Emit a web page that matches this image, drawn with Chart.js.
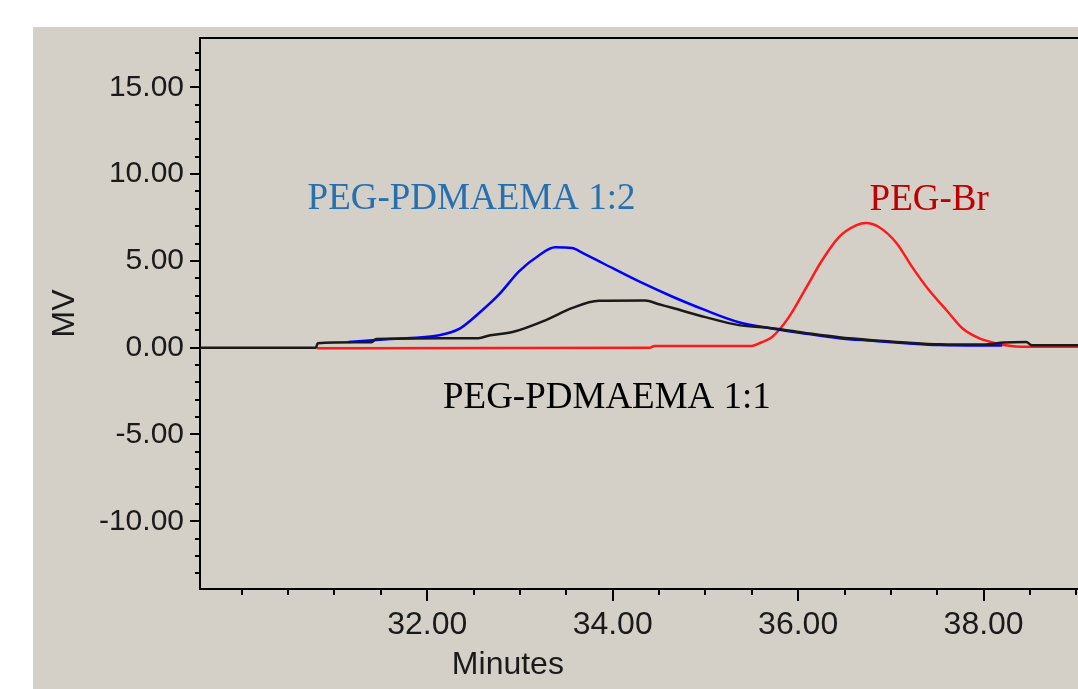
<!DOCTYPE html>
<html>
<head>
<meta charset="utf-8">
<script src="https://cdn.jsdelivr.net/npm/chart.js@4.4.1/dist/chart.umd.min.js"></script>
<style>
  html, body { margin: 0; padding: 0; background: #fff; overflow: hidden; width: 1078px; height: 689px; }
  #wrap { position: absolute; left: 33px; top: 27px; width: 1150px; height: 662px; background: #d4d0c8; }
</style>
</head>
<body>
<div id="wrap"><canvas id="gpc"></canvas></div>
<script>
// tick labels
const xTicks = [32, 34, 36, 38];
const yTicks = [-10, -5, 0, 5, 10, 15];

// PEG-PDMAEMA 1:1 (black)
const blackMin = [29.55, 30.80, 30.82, 31.40, 31.45, 32.55, 32.68, 32.92, 33.28, 33.56, 33.85, 34.35, 34.50, 34.64, 35.00, 35.36, 35.72, 36.09, 36.44, 36.80, 37.16, 37.52, 38.00, 38.22, 38.46, 38.52, 40.15];
const blackMV  = [0.00, 0.00, 0.26, 0.32, 0.50, 0.55, 0.72, 0.90, 1.59, 2.28, 2.70, 2.72, 2.50, 2.30, 1.76, 1.30, 1.12, 0.84, 0.60, 0.43, 0.30, 0.20, 0.18, 0.30, 0.33, 0.14, 0.14];

// PEG-PDMAEMA 1:2 (blue)
const blueMin = [31.15, 31.60, 32.13, 32.35, 32.56, 32.78, 32.99, 33.20, 33.38, 33.56, 33.68, 33.90, 34.29, 34.64, 35.00, 35.36, 35.72, 36.09, 36.44, 36.80, 37.16, 37.52, 38.20];
const blueMV  = [0.33, 0.50, 0.72, 1.10, 2.00, 3.10, 4.40, 5.30, 5.78, 5.74, 5.45, 4.85, 3.80, 2.95, 2.16, 1.47, 1.10, 0.80, 0.55, 0.40, 0.26, 0.15, 0.12];

// PEG-Br (red)
const redMin = [30.81, 34.40, 34.45, 35.50, 35.60, 35.72, 35.90, 36.09, 36.26, 36.44, 36.63, 36.73, 36.87, 37.06, 37.23, 37.41, 37.60, 37.77, 37.95, 38.13, 38.30, 38.55, 40.15];
const redMV  = [-0.03, 0.00, 0.10, 0.10, 0.30, 0.62, 1.76, 3.49, 5.05, 6.37, 7.06, 7.18, 6.95, 6.03, 4.64, 3.32, 2.16, 1.12, 0.55, 0.26, 0.10, 0.05, 0.05];

const toPts = (xs, ys) => xs.map((x, i) => ({ x: x, y: ys[i] }));

// labels on the plot (baseline), in data coordinates
const notes = [
  { text: "PEG-PDMAEMA 1:2", x: 30.71, y: 7.99, color: "#2470b0" },
  { text: "PEG-Br", x: 36.77, y: 7.93, color: "#c00000" },
  { text: "PEG-PDMAEMA 1:1", x: 32.17, y: -3.49, color: "#000000" }
];

const yFont = { family: "'Liberation Sans', Arial, sans-serif", size: 30 };
const xFont = { family: "'Liberation Sans', Arial, sans-serif", size: 32 };

const extras = {
  id: "extras",
  afterDraw(chart) {
    const ctx = chart.ctx;
    const xs = chart.scales.x, ys = chart.scales.y;
    const a = chart.chartArea;
    ctx.save();
    ctx.strokeStyle = "#000";
    ctx.lineWidth = 2;
    // top frame line
    ctx.beginPath();
    ctx.moveTo(a.left - 1, a.top);
    ctx.lineTo(a.right, a.top);
    ctx.stroke();
    // x ticks: every 0.5, long at labelled ones
    ctx.beginPath();
    for (let v = 30; v <= 40; v += 0.5) {
      const px = Math.round(xs.getPixelForValue(v));
      const len = xTicks.includes(v) ? 12 : 6;
      ctx.moveTo(px, a.bottom);
      ctx.lineTo(px, a.bottom + len);
    }
    // y ticks: every 1, long at labelled ones
    for (let v = -13; v <= 17; v += 1) {
      const py = Math.round(ys.getPixelForValue(v));
      const len = yTicks.includes(v) ? 10 : 5;
      ctx.moveTo(a.left, py);
      ctx.lineTo(a.left - len, py);
    }
    ctx.stroke();
    // x axis title
    ctx.fillStyle = "#1a1a1a";
    ctx.font = "32px 'Liberation Sans', Arial, sans-serif";
    ctx.textAlign = "center";
    ctx.textBaseline = "middle";
    ctx.fillText("Minutes", xs.getPixelForValue(32.87), a.bottom + 76);
    // curve labels
    ctx.font = "37px 'Liberation Serif', 'Times New Roman', serif";
    ctx.textAlign = "left";
    ctx.textBaseline = "alphabetic";
    notes.forEach(n => {
      ctx.fillStyle = n.color;
      ctx.fillText(n.text, xs.getPixelForValue(n.x), ys.getPixelForValue(n.y));
    });
    ctx.restore();
  }
};

new Chart(document.getElementById("gpc"), {
  type: "line",
  data: {
    datasets: [
      { label: "PEG-PDMAEMA 1:1", data: toPts(blackMin, blackMV), borderColor: "#1a1a1a", order: 0 },
      { label: "PEG-PDMAEMA 1:2", data: toPts(blueMin, blueMV), borderColor: "#0000ff", order: 1 },
      { label: "PEG-Br", data: toPts(redMin, redMV), borderColor: "#ff1a1a", order: 2 }
    ]
  },
  options: {
    responsive: true,
    maintainAspectRatio: false,
    animation: false,
    layout: { padding: { top: 11, right: 0, bottom: 0, left: 0 } },
    elements: {
      point: { radius: 0 },
      line: { borderWidth: 2.5, cubicInterpolationMode: "monotone", fill: false }
    },
    plugins: { legend: { display: false }, tooltip: { enabled: false } },
    scales: {
      x: {
        type: "linear",
        min: 29.55,
        max: 40.15,
        afterFit(s) { s.height = 100; s.paddingLeft = 0; s.paddingRight = 0; },
        afterBuildTicks(s) { s.ticks = xTicks.map(v => ({ value: v })); },
        grid: { display: true, drawOnChartArea: false, drawTicks: false },
        border: { display: true, color: "#000", width: 2 },
        ticks: {
          padding: 17,
          color: "#1a1a1a",
          font: xFont,
          maxRotation: 0,
          callback: v => v.toFixed(2)
        }
      },
      y: {
        type: "linear",
        min: -13.9,
        max: 17.84,
        afterFit(s) { s.width = 167; s.paddingTop = 0; s.paddingBottom = 0; },
        afterBuildTicks(s) { s.ticks = yTicks.map(v => ({ value: v })); },
        grid: { display: true, drawOnChartArea: false, drawTicks: false },
        border: { display: true, color: "#000", width: 2 },
        ticks: {
          padding: 16,
          color: "#1a1a1a",
          font: yFont,
          callback: v => v.toFixed(2)
        },
        title: {
          display: true,
          text: "MV",
          color: "#1a1a1a",
          font: xFont,
          padding: { top: 13, bottom: 0 }
        }
      }
    }
  },
  plugins: [extras]
});
</script>
</body>
</html>
